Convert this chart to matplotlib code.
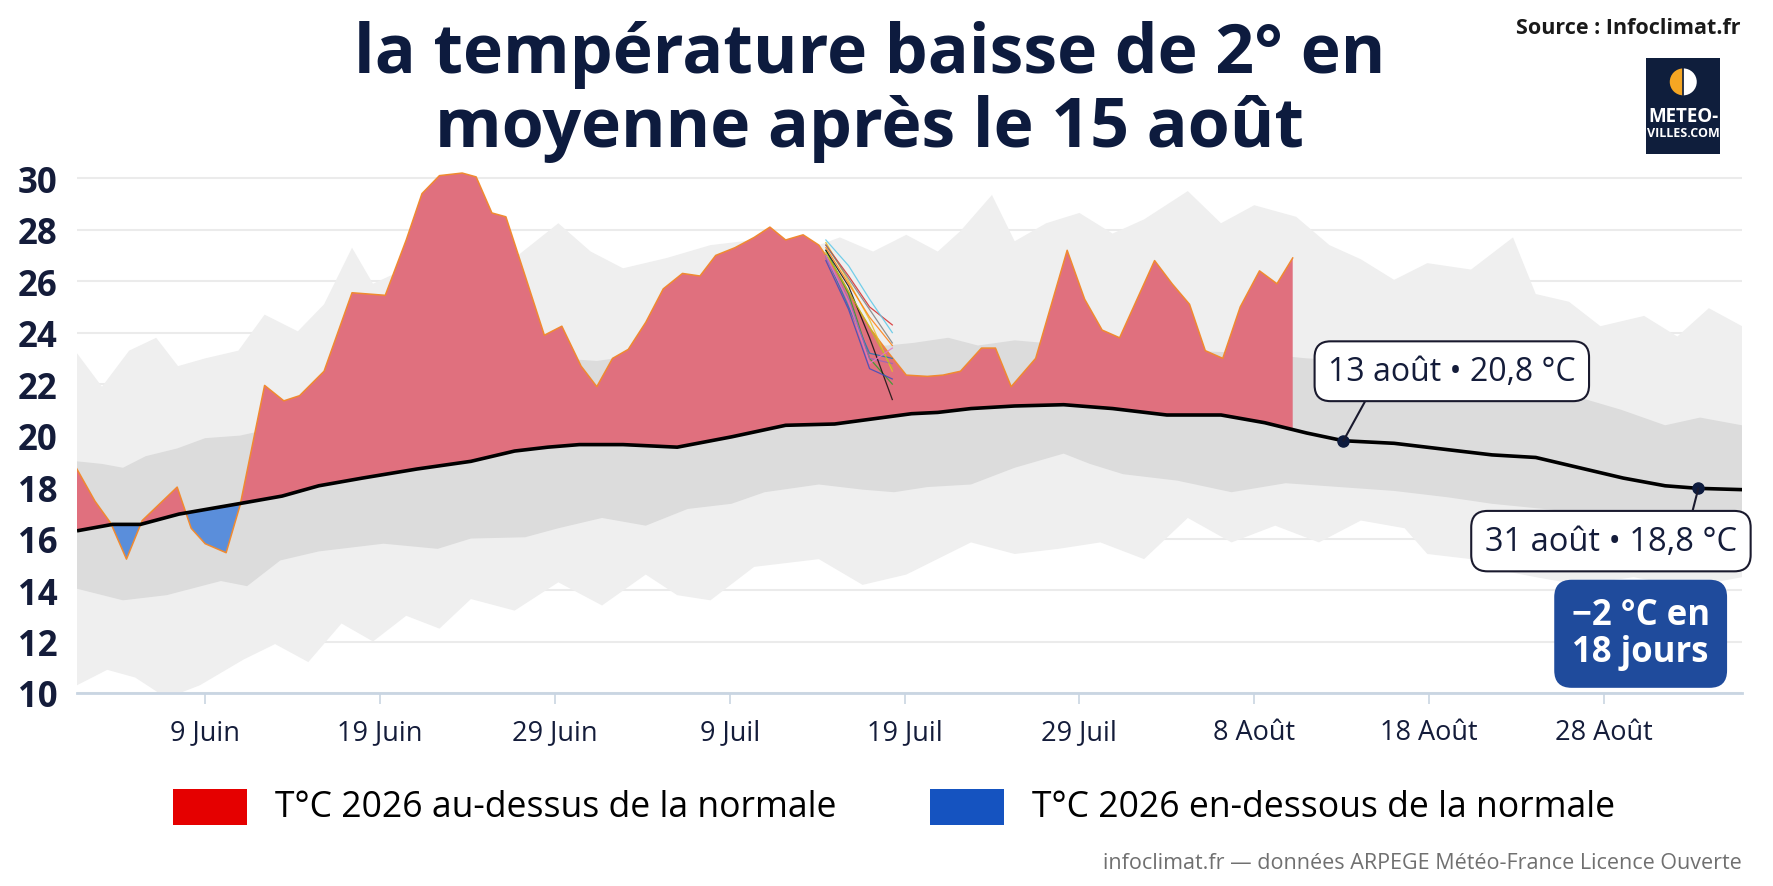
import matplotlib.pyplot as plt
import numpy as np
from matplotlib.patches import Rectangle, Wedge

plt.rcParams['font.family'] = ['Open Sans', 'DejaVu Sans']

NAVY = '#0d1b3e'

# days are counted from 1 June (0 = 1 June)
tick_days = [8, 18, 28, 38, 48, 58, 68, 78, 88]
tick_labels = ['9 Juin', '19 Juin', '29 Juin', '9 Juil', '19 Juil', '29 Juil',
               '8 Août', '18 Août', '28 Août']

# observed 2026 temperature
obs_day = [0.5, 1.7, 2.6, 3.5, 4.4, 6.4, 7.2, 8.0, 9.2, 10.0, 11.4, 12.5, 13.4, 14.8,
           16.4, 18.3, 19.5, 20.4, 21.4, 22.7, 23.5, 24.4, 25.2, 26.4, 27.4, 28.4,
           29.5, 30.4, 31.3, 32.2, 33.2, 34.2, 35.3, 36.3, 37.2, 38.3, 39.4, 40.3,
           41.2, 42.2, 43.1, 44.3, 45.2, 46.1, 47.1, 48.1, 49.3, 50.2, 51.2, 52.4,
           53.2, 54.1, 55.5, 57.3, 58.3, 59.3, 60.3, 61.3, 62.3, 63.3, 64.3, 65.2,
           66.2, 67.2, 68.3, 69.3, 70.2]
obs_temp = [18.9, 17.45, 16.6, 15.2, 16.7, 18.0, 16.4, 15.8, 15.45, 17.3, 21.95, 21.35,
            21.55, 22.5, 25.55, 25.45, 27.6, 29.4, 30.1, 30.2, 30.05, 28.65, 28.5, 26.0,
            23.9, 24.25, 22.7, 21.9, 23.0, 23.35, 24.4, 25.7, 26.3, 26.2, 27.0, 27.3,
            27.7, 28.1, 27.6, 27.8, 27.4, 26.2, 25.1, 24.1, 23.2, 22.35, 22.3, 22.35,
            22.5, 23.4, 23.4, 21.9, 23.0, 27.2, 25.3, 24.1, 23.8, 25.3, 26.8, 25.9,
            25.1, 23.3, 23.0, 25.0, 26.4, 25.9, 26.9]

# seasonal normal
norm_day = [0.67, 2.7, 4.3, 6.5, 9.9, 12.4, 14.5, 17.0, 20.1, 23.2, 25.7, 27.6, 29.4,
            31.9, 35.0, 38.1, 41.2, 44.0, 46.2, 48.4, 49.9, 51.8, 54.3, 57.1, 59.9,
            63.0, 66.1, 68.6, 71.0, 73.1, 76.0, 79.1, 81.6, 84.1, 86.6, 89.1, 91.5,
            93.4, 95.9]
norm_temp = [16.3, 16.55, 16.55, 16.95, 17.35, 17.65, 18.05, 18.35, 18.7, 19.0, 19.4,
             19.55, 19.65, 19.65, 19.55, 19.95, 20.4, 20.45, 20.65, 20.85, 20.9, 21.05,
             21.15, 21.2, 21.05, 20.8, 20.8, 20.5, 20.1, 19.8, 19.7, 19.45, 19.25, 19.15,
             18.75, 18.35, 18.05, 17.95, 17.9]

# records band (light grey)
outer_hi_day = [0.67, 2.1, 3.65, 5.2, 6.45, 8.0, 9.9, 11.4, 13.3, 14.8, 16.4, 17.6,
                19.5, 22.0, 25.7, 28.2, 30.05, 31.9, 34.4, 36.9, 39.4, 43.1, 44.3,
                46.2, 48.1, 49.9, 51.2, 53.0, 54.3, 56.1, 58.0, 59.9, 61.7, 64.2, 66.1,
                68.0, 70.4, 72.3, 74.1, 76.0, 77.9, 80.4, 82.8, 84.1, 86.0, 87.8, 90.3,
                92.2, 94.0, 95.9]
outer_hi = [23.2, 21.9, 23.3, 23.8, 22.7, 23.0, 23.3, 24.7, 24.05, 25.1, 27.3, 25.9,
            26.5, 27.6, 26.9, 28.25, 27.15, 26.5, 26.9, 27.4, 27.6, 27.4, 27.7, 27.15,
            27.8, 27.15, 27.95, 29.35, 27.55, 28.25, 28.65, 27.85, 28.4, 29.5, 28.25,
            28.95, 28.5, 27.4, 26.85, 26.05, 26.7, 26.45, 27.7, 25.5, 25.2, 24.25, 24.65,
            23.85, 24.95, 24.25]
outer_lo_day = [0.67, 2.4, 4.0, 5.8, 7.7, 10.2, 12.0, 13.9, 15.8, 17.6, 19.5, 21.4,
                23.2, 25.7, 28.2, 30.7, 33.2, 35.0, 36.9, 39.4, 43.1, 45.6, 48.1, 51.8,
                54.3, 56.8, 59.2, 61.7, 64.2, 66.7, 69.2, 71.7, 74.1, 76.6, 77.9, 80.4,
                82.2, 84.1, 86.6, 89.7, 92.8, 95.9]
outer_lo = [10.3, 10.9, 10.6, 9.8, 10.3, 11.3, 11.9, 11.2, 12.7, 12.0, 13.0, 12.5,
            13.65, 13.2, 14.3, 13.4, 14.6, 13.8, 13.6, 14.9, 15.2, 14.2, 14.6, 15.85,
            15.4, 15.6, 15.85, 15.2, 16.8, 15.85, 16.5, 15.85, 16.7, 16.4, 15.4, 15.2,
            14.75, 14.5, 14.2, 14.5, 14.1, 14.5]

# normal range (darker grey)
inner_hi_day = [0.67, 2.1, 3.3, 4.6, 6.4, 8.0, 10.0, 12.0, 15.0, 18.0, 21.0, 24.0,
                27.0, 28.2, 30.4, 32.5, 36.0, 40.0, 44.0, 47.0, 48.5, 50.5, 52.2, 54.3,
                56.0, 60.0, 64.0, 68.0, 71.0, 74.0, 78.0, 81.6, 84.5, 86.5, 89.0, 91.5,
                93.5, 95.9]
inner_hi = [19.0, 18.9, 18.75, 19.2, 19.5, 19.9, 20.0, 20.3, 20.8, 21.3, 21.8, 22.3,
            22.7, 23.0, 22.9, 23.1, 23.3, 23.4, 23.4, 23.5, 23.6, 23.8, 23.5, 23.7,
            23.6, 23.4, 23.3, 23.2, 23.0, 22.9, 22.8, 22.5, 22.0, 21.5, 21.0, 20.4,
            20.7, 20.4]
inner_lo_day = [0.67, 3.3, 5.8, 8.9, 10.4, 12.3, 14.5, 18.2, 21.3, 23.2, 26.3, 28.2,
                30.7, 33.2, 35.6, 38.1, 40.0, 43.1, 45.6, 47.4, 49.3, 51.8, 54.3, 57.1,
                58.6, 60.5, 63.6, 66.7, 69.8, 72.9, 76.0, 79.1, 81.6, 85.3, 88.4, 91.5,
                95.9]
inner_lo = [14.05, 13.6, 13.8, 14.35, 14.15, 15.15, 15.5, 15.8, 15.6, 16.0, 16.05, 16.4,
            16.8, 16.5, 17.15, 17.35, 17.8, 18.1, 17.9, 17.8, 18.0, 18.1, 18.75, 19.3,
            18.9, 18.5, 18.25, 17.8, 18.15, 18.0, 17.85, 17.6, 17.35, 17.1, 16.4, 16.0,
            15.85]

# ARPEGE members
ens_day = [43.5, 44.8, 46.0, 47.3]
ens_members = [
    ('#2ca02c', [27.2, 25.5, 23.0, 22.0]),
    ('#e6c229', [27.5, 26.0, 24.5, 22.5]),
    ('#1f77b4', [27.0, 25.0, 23.2, 23.0]),
    ('#d62728', [27.4, 26.2, 25.0, 24.3]),
    ('#9467bd', [26.9, 25.3, 23.0, 22.8]),
    ('#111111', [27.2, 25.8, 23.8, 21.4]),
    ('#5bc8e8', [27.6, 26.6, 25.3, 24.0]),
    ('#ff7f0e', [27.3, 25.9, 24.6, 23.5]),
    ('#bcbd22', [27.1, 25.6, 24.2, 22.6]),
    ('#e377c2', [27.0, 25.2, 22.8, 23.4]),
    ('#7f7f7f', [27.4, 26.1, 24.9, 23.6]),
    ('#3b4cc0', [26.8, 24.9, 22.6, 22.2]),
]

marker_day = [73.1, 93.4]

fig = plt.figure(figsize=(17.74, 8.87), dpi=100)
fig.patch.set_facecolor('white')
ax = fig.add_axes([0.0434, 0.2176, 0.9386, 0.6094])

ax.fill(np.r_[outer_hi_day, outer_lo_day[::-1]], np.r_[outer_hi, outer_lo[::-1]],
        color='#efefef', lw=0, zorder=1)
ax.fill(np.r_[inner_hi_day, inner_lo_day[::-1]], np.r_[inner_hi, inner_lo[::-1]],
        color='#dcdcdc', lw=0, zorder=2)

xs = np.union1d(obs_day, [d for d in norm_day if obs_day[0] <= d <= obs_day[-1]])
obs_i = np.interp(xs, obs_day, obs_temp)
norm_i = np.interp(xs, norm_day, norm_temp)
ax.fill_between(xs, obs_i, norm_i, where=obs_i >= norm_i, interpolate=True,
                color='#e0707e', lw=0, zorder=3)
ax.fill_between(xs, obs_i, norm_i, where=obs_i < norm_i, interpolate=True,
                color='#5a8edb', lw=0, zorder=3)
ax.plot(obs_day, obs_temp, color='#f08a30', lw=1.1, zorder=4)

for col, vals in ens_members:
    ax.plot(ens_day, vals, color=col, lw=0.9, alpha=0.85, zorder=5)

ax.plot(norm_day, norm_temp, color='black', lw=2.6, zorder=6, solid_capstyle='butt')
marker_temp = np.interp(marker_day, norm_day, norm_temp)
ax.plot(marker_day, marker_temp, 'o', color=NAVY, ms=8, zorder=8)

ax.set_xlim(0.67, 95.9)
ax.set_ylim(10, 31)
ax.set_yticks(range(10, 31, 2))
ax.set_xticks(tick_days)
ax.set_xticklabels(tick_labels)
for s in ['top', 'right', 'left']:
    ax.spines[s].set_visible(False)
ax.spines['bottom'].set_color('#c9d5e2')
ax.spines['bottom'].set_linewidth(2)
ax.spines['bottom'].set_zorder(7)
ax.tick_params(axis='x', length=8, width=1.2, color='#c9d5e2', pad=10,
               labelsize=19.5, labelcolor='#141c3a')
ax.tick_params(axis='y', length=0, pad=14, labelsize=25, labelcolor='#141c3a')
for lab in ax.get_yticklabels():
    lab.set_fontweight('bold')
ax.yaxis.grid(True, color='#ebebeb', lw=1.5)
ax.set_axisbelow(True)
ax.patch.set_alpha(0)

box = dict(boxstyle='round,pad=0.42,rounding_size=0.5', fc='white', ec='#1a1a2e', lw=1.5)
ax.annotate('13 août • 20,8 °C', xy=(marker_day[0], marker_temp[0]), xytext=(79.3, 22.5),
            ha='center', va='center', fontsize=23, color='#141c3a', bbox=box, zorder=9,
            annotation_clip=False,
            arrowprops=dict(arrowstyle='-', color='#1a1a2e', lw=1.5, relpos=(0.18, 0.0),
                            shrinkA=0, shrinkB=0))
ax.annotate('31 août • 18,8 °C', xy=(marker_day[1], marker_temp[1]), xytext=(88.4, 15.9),
            ha='center', va='center', fontsize=23.5, color='#141c3a', bbox=box, zorder=9,
            annotation_clip=False,
            arrowprops=dict(arrowstyle='-', color='#1a1a2e', lw=1.5, relpos=(0.81, 1.0),
                            shrinkA=0, shrinkB=0))
ax.text(90.1, 12.3, '−2 °C en\n18 jours', ha='center', va='center', fontsize=25,
        weight='bold', color='white', linespacing=1.05, zorder=9,
        bbox=dict(boxstyle='round,pad=0.5,rounding_size=0.5', fc='#1f4b9c', ec='none'))

# title and credits
fig.text(0.49, 0.938, 'la température baisse de 2° en', ha='center', va='center',
         fontsize=49, weight='bold', color=NAVY)
fig.text(0.49, 0.855, 'moyenne après le 15 août', ha='center', va='center',
         fontsize=49, weight='bold', color=NAVY)
fig.text(0.981, 0.968, 'Source : Infoclimat.fr', ha='right', va='center',
         fontsize=15.5, weight='bold', color='#1a1a1a')
fig.text(0.982, 0.027, 'infoclimat.fr — données ARPEGE Météo-France Licence Ouverte',
         ha='right', va='center', fontsize=15.5, color='#707070')

# legend
fig.patches.append(Rectangle((0.0975, 0.0688), 0.0417, 0.0406, transform=fig.transFigure,
                             fc='#e50000', ec='none'))
fig.text(0.155, 0.089, 'T°C 2026 au-dessus de la normale', ha='left', va='center',
         fontsize=25.6, color='black')
fig.patches.append(Rectangle((0.524, 0.0688), 0.0417, 0.0406, transform=fig.transFigure,
                             fc='#1553c0', ec='none'))
fig.text(0.5817, 0.089, 'T°C 2026 en-dessous de la normale', ha='left', va='center',
         fontsize=25.6, color='black')

# logo
lax = fig.add_axes([0.928, 0.825, 0.0417, 0.108])
lax.set_xlim(0, 74)
lax.set_ylim(0, 96)
lax.axis('off')
lax.add_patch(Rectangle((0, 0), 74, 96, fc='#0f1e3c', ec='none'))
lax.add_patch(Wedge((37, 72.5), 13.5, 90, 270, fc='#f5a623', ec='none'))
lax.add_patch(Wedge((37, 72.5), 13.5, 270, 90, fc='white', ec='none'))
lax.plot([37, 37], [59, 86], color='#0f1e3c', lw=1.2)
lax.text(37, 38, 'METEO-', ha='center', va='center', fontsize=13.5, weight='bold',
         color='white')
lax.text(37, 21.5, 'VILLES.COM', ha='center', va='center', fontsize=9, weight='bold',
         color='white')

fig.savefig('out.png', dpi=100)
